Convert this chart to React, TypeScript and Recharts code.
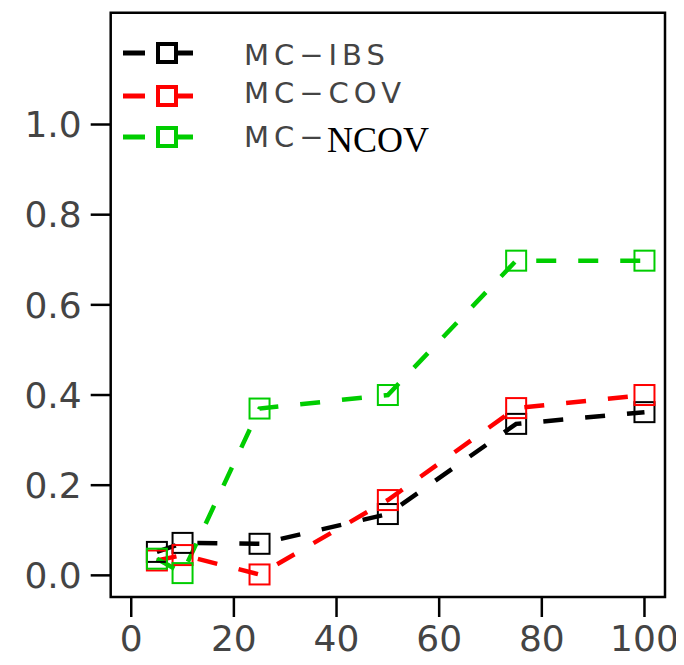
import React from "react";
import { LineChart, Line, XAxis, YAxis, ReferenceArea } from "recharts";

const xValues = [5, 10, 25, 50, 75, 100];
const ibsValues = [0.052, 0.072, 0.07, 0.136, 0.336, 0.362];
const covValues = [0.033, 0.045, 0.002, 0.167, 0.371, 0.4];
const ncovValues = [0.037, 0.005, 0.37, 0.4, 0.698, 0.698];
const xTicks = [0, 20, 40, 60, 80, 100];
const yTicks = [0, 0.2, 0.4, 0.6, 0.8, 1.0];
const X_DOMAIN: [number, number] = [-4, 104];
const Y_DOMAIN: [number, number] = [-0.048, 1.248];

const data = xValues.map((x, i) => ({
  x,
  ibs: ibsValues[i],
  cov: covValues[i],
  ncov: ncovValues[i],
}));

const BLACK = "#000000";
const RED = "#ff0000";
const GREEN = "#00cd00";
const SANS = "'DejaVu Sans', sans-serif";
const TEXT = "#444444";

const squareDot = (color: string) => (props: any) => {
  const { cx, cy, index } = props;
  if (cx == null || cy == null) return <g key={index} />;
  const s = 20;
  return (
    <rect
      key={index}
      x={cx - s / 2}
      y={cy - s / 2}
      width={s}
      height={s}
      fill="none"
      stroke={color}
      strokeWidth={2}
    />
  );
};

const legendItems = [
  { color: BLACK, label: "MC\u2212IBS", serif: "" },
  { color: RED, label: "MC\u2212COV", serif: "" },
  { color: GREEN, label: "MC\u2212", serif: "NCOV" },
];

function LegendOverlay() {
  const ys = [45, 88, 129];
  const baselines = [57, 95, 139];
  return (
    <svg
      width={676}
      height={200}
      style={{ position: "absolute", left: 0, top: 0, pointerEvents: "none" }}
    >
      {legendItems.map((it, i) => (
        <g key={it.label + i}>
          <line x1={115} x2={137} y1={ys[i]} y2={ys[i]} stroke={it.color} strokeWidth={5} />
          <rect x={150} y={ys[i] - 9} width={18} height={18} fill="none" stroke={it.color} strokeWidth={4} />
          <line x1={168} x2={185} y1={ys[i]} y2={ys[i]} stroke={it.color} strokeWidth={5} />
          <text
            x={236}
            y={baselines[i]}
            fontFamily={SANS}
            fontSize={29}
            fill={TEXT}
            letterSpacing={5}
          >
            {it.label}
          </text>
          {it.serif ? (
            <text x={319} y={144} fontFamily="'Liberation Serif', 'Times New Roman', serif" fontSize={36} fill="#000">
              {it.serif}
            </text>
          ) : null}
        </g>
      ))}
    </svg>
  );
}

export default function App() {
  return (
    <div style={{ position: "relative", width: 676, height: 657 }}>
      <LineChart
        width={676}
        height={657}
        data={data}
        margin={{ top: 4.7, right: 19, bottom: 8, left: 7.7 }}
      >
        <XAxis
          dataKey="x"
          type="number"
          domain={X_DOMAIN}
          ticks={xTicks}
          allowDataOverflow
          axisLine={false}
          tickLine={{ stroke: "#000", strokeWidth: 2.5 }}
          tickSize={20}
          tickMargin={8}
          height={60}
          tick={{ fill: TEXT, fontSize: 36, fontFamily: SANS }}
        />
        <YAxis
          type="number"
          domain={Y_DOMAIN}
          ticks={yTicks}
          allowDataOverflow
          axisLine={false}
          tickLine={{ stroke: "#000", strokeWidth: 2.5 }}
          tickSize={20}
          tickMargin={9}
          width={95}
          tickFormatter={(v: number) => v.toFixed(1)}
          tick={{ fill: TEXT, fontSize: 36, fontFamily: SANS }}
        />
        <ReferenceArea
          x1={X_DOMAIN[0]}
          x2={X_DOMAIN[1]}
          y1={Y_DOMAIN[0]}
          y2={Y_DOMAIN[1]}
          fill="none"
          stroke="#000"
          strokeWidth={2.5}
          ifOverflow="visible"
        />
        <Line
          dataKey="ibs"
          stroke={BLACK}
          strokeWidth={4.5}
          strokeDasharray="20 22"
          dot={squareDot(BLACK)}
          isAnimationActive={false}
        />
        <Line
          dataKey="cov"
          stroke={RED}
          strokeWidth={4.5}
          strokeDasharray="20 22"
          dot={squareDot(RED)}
          isAnimationActive={false}
        />
        <Line
          dataKey="ncov"
          stroke={GREEN}
          strokeWidth={4.5}
          strokeDasharray="20 22"
          dot={squareDot(GREEN)}
          isAnimationActive={false}
        />
      </LineChart>
      <LegendOverlay />
    </div>
  );
}
